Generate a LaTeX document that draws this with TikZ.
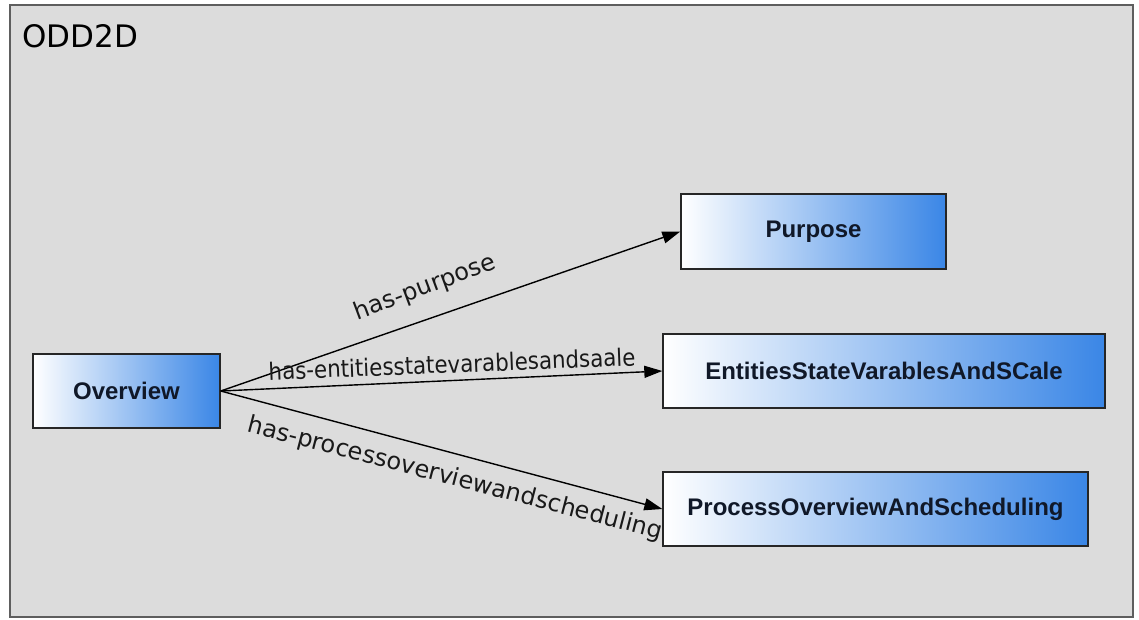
\documentclass[tikz,border=0pt]{standalone}
\usepackage{fontspec}
\setmainfont{DejaVu Sans}
\newfontfamily\boxfont{Liberation Sans}
\usetikzlibrary{arrows.meta}
\definecolor{panelbg}{HTML}{DCDCDC}
\definecolor{panelrule}{HTML}{5E5E5E}
\definecolor{boxblue}{HTML}{3A86E6}
\definecolor{boxtext}{HTML}{101828}
\tikzset{
  classbox/.style={rectangle, draw=black!85, line width=1.4pt, inner sep=0pt,
    left color=white, right color=boxblue, text=boxtext,
    font=\boxfont\bfseries\fontsize{24}{28}\selectfont},
  rel/.style={-{Triangle[length=18pt,width=12pt]}, line width=1.4pt, black},
  rellabel/.style={font=\fontsize{24}{28}\selectfont, text=black!90, inner sep=0pt},
}
\begin{document}
\begin{tikzpicture}[x=1pt,y=-1pt]
\useasboundingbox (0,0) rectangle (1139,619);
% package frame
\draw[fill=panelbg, draw=panelrule, line width=2pt] (10,5) rectangle (1133,617);
\node[anchor=base west, font=\fontsize{31}{35}\selectfont, inner sep=0pt] (title) at (22,47) {ODD2D};

% classes
\node[classbox, minimum width=187pt, minimum height=74pt] (overview) at (126.5,391) {Overview};
\node[classbox, minimum width=265pt, minimum height=75pt] (purpose) at (813.5,231.5) {Purpose};
\node[classbox, minimum width=442pt, minimum height=74pt] (entities) at (884,371) {EntitiesStateVarablesAndSCale};
\node[classbox, minimum width=425pt, minimum height=74pt] (process) at (875.5,509) {ProcessOverviewAndScheduling};

% relations
\draw[rel] (overview.east) -- (purpose.west);
\draw[rel] (overview.east) -- (entities.west);
\draw[rel] (overview.east) -- (process.west);

% relation names
\node[rellabel, rotate=20.5] (lpurpose) at (425,288) {has-purpose};
\node[rellabel, rotate=2.3, xscale=0.89] (lentities) at (452,364) {has-entitiesstatevarablesandsaale};
\node[rellabel, rotate=-14.6] (lprocess) at (455,479) {has-processoverviewandscheduling};
\end{tikzpicture}
\end{document}
